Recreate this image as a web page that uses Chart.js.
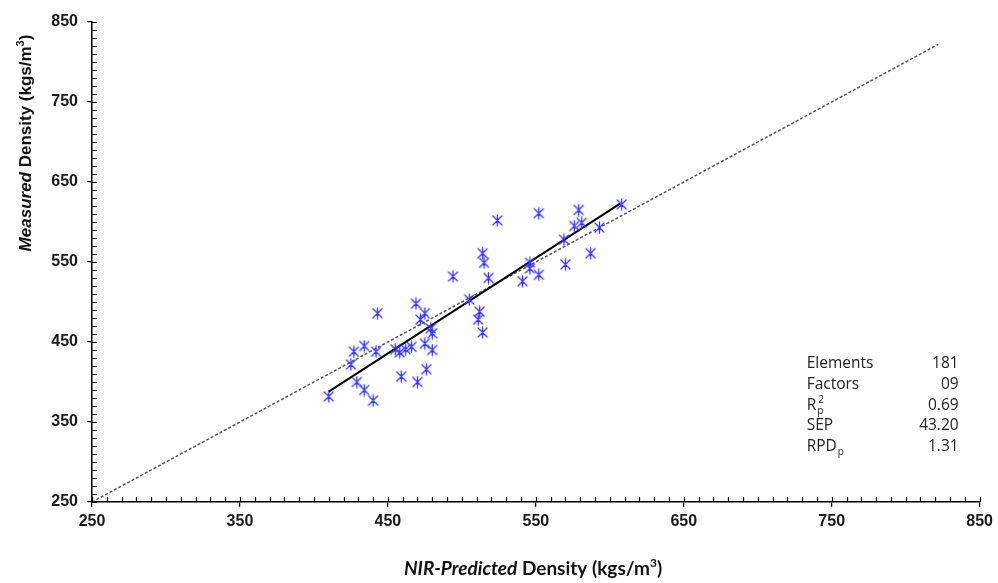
<!DOCTYPE html>
<html>
<head>
<meta charset="utf-8">
<script src="https://cdn.jsdelivr.net/npm/chart.js@4.4.1/dist/chart.umd.min.js"></script>
<style>
  html, body { margin: 0; padding: 0; background: #fff; }
  #wrap { width: 998px; height: 583px; }
</style>
</head>
<body>
<div id="wrap"><canvas id="chartNir"></canvas></div>
<script>
const ctx = document.getElementById('chartNir').getContext('2d');

// NIR-predicted vs measured density (kgs/m3)
const predicted = [
    410, 425, 427, 434, 442, 443, 429, 434, 440, 459, 470, 476, 455, 458, 462,
    466, 475, 480, 469, 475, 472, 479, 480, 494, 505, 512, 511, 514, 514, 515,
    518, 524, 541, 546, 546, 552, 552, 570, 569, 576, 579, 581, 587, 593, 608
];
const measured = [
    382, 422, 438, 445, 438, 486, 400, 390, 377, 407, 400, 416, 441, 437, 441,
    444, 448, 440, 498, 486, 478, 467, 461, 532, 503, 488, 478, 462, 561, 549,
    530, 602, 526, 549, 542, 534, 611, 547, 578, 595, 615, 599, 561, 593, 622
];

// regression fit and 1:1 line end points
const fitX = [410, 607];
const fitY = [388, 623];
const oneToOne = [250, 822];

const tickValues = [250, 350, 450, 550, 650, 750, 850];

const statNames = [['Elements', '', ''], ['Factors', '', ''], ['R', 'p', '2'], ['SEP', '', ''], ['RPD', 'p', '']];
const statValues = ['181', '09', '0.69', '43.20', '1.31'];

// asterisk marker (X with a vertical bar)
const star = document.createElement('canvas');
star.width = 13; star.height = 13;
const sc = star.getContext('2d');
sc.strokeStyle = '#3434ff';
sc.lineWidth = 1.3;
sc.lineCap = 'round';
sc.beginPath();
sc.moveTo(2, 2); sc.lineTo(11, 11);
sc.moveTo(11, 2); sc.lineTo(2, 11);
sc.moveTo(6.5, 1); sc.lineTo(6.5, 12);
sc.stroke();

const pts = predicted.map((p, i) => ({ x: p, y: measured[i] }));
const fitPts = fitX.map((v, i) => ({ x: v, y: fitY[i] }));
const idPts = oneToOne.map(v => ({ x: v, y: v }));

function drawRuns(c, runs, x, y, align) {
    let w = 0;
    runs.forEach(r => { c.font = r.font; w += c.measureText(r.text).width; });
    let cx = align === 'center' ? x - w / 2 : x;
    runs.forEach(r => {
        c.font = r.font;
        c.fillText(r.text, cx, y + (r.dy || 0));
        cx += c.measureText(r.text).width;
    });
}

const extras = {
    id: 'extras',
    afterDraw(chart) {
        const c = chart.ctx;
        const xs = chart.scales.x, ys = chart.scales.y;
        const a = chart.chartArea;
        c.save();
        // inner ticks every 10
        c.strokeStyle = '#000';
        c.lineWidth = 1.2;
        c.beginPath();
        for (let v = 250; v <= 850; v += 10) {
            const px = Math.round(xs.getPixelForValue(v)) + 0.5;
            c.moveTo(px, a.bottom); c.lineTo(px, a.bottom - 5);
            const py = Math.round(ys.getPixelForValue(v)) + 0.5;
            c.moveTo(a.left, py); c.lineTo(a.left + 5, py);
        }
        c.stroke();

        // axis titles
        c.fillStyle = '#111';
        c.textBaseline = 'alphabetic';
        const tf = '"Lato", "Open Sans", sans-serif';
        drawRuns(c, [
            { text: 'NIR-Predicted', font: 'italic bold 19px ' + tf },
            { text: ' Density (kgs/m', font: 'bold 19px ' + tf },
            { text: '3', font: 'bold 12px ' + tf, dy: -8 },
            { text: ')', font: 'bold 19px ' + tf }
        ], 533, 575, 'center');

        c.save();
        c.translate(31, 143);
        c.rotate(-Math.PI / 2);
        const yf = '"Liberation Sans", Arial, sans-serif';
        drawRuns(c, [
            { text: 'Measured', font: 'italic bold 17px ' + yf },
            { text: ' Density (kgs/m', font: 'bold 17px ' + yf },
            { text: '3', font: 'bold 11px ' + yf, dy: -7 },
            { text: ')', font: 'bold 17px ' + yf }
        ], 0, 0, 'center');
        c.restore();

        // stats block
        const sf = '"Open Sans", sans-serif';
        const lx = a.right - 173, rx = a.right - 21;
        statNames.forEach((s, i) => {
            const by = a.top + 346 + i * 20.8;
            c.fillStyle = '#222';
            c.textAlign = 'left';
            c.font = '15.5px ' + sf;
            c.fillText(s[0], lx, by);
            const w = c.measureText(s[0]).width;
            c.font = '10px ' + sf;
            if (s[1]) c.fillText(s[1], lx + w + 1, by + 4);
            if (s[2]) c.fillText(s[2], lx + w + 2, by - 7);
            c.textAlign = 'right';
            c.font = '15.5px ' + sf;
            c.fillText(statValues[i], rx, by);
        });
        c.restore();
    }
};

const tickFont = { family: '"Liberation Sans", Arial, sans-serif', size: 16, weight: 'bold' };

const nirChart = new Chart(ctx, {
    type: 'scatter',
    data: {
        datasets: [
            {
                label: 'Samples',
                data: pts,
                pointStyle: star,
                pointRadius: 6
            },
            {
                label: 'Fit',
                data: fitPts,
                showLine: true,
                borderColor: '#000',
                borderWidth: 2,
                pointRadius: 0
            },
            {
                label: '1:1',
                data: idPts,
                showLine: true,
                borderColor: '#555',
                borderWidth: 1.5,
                borderDash: [3, 2],
                pointRadius: 0
            }
        ]
    },
    options: {
        responsive: true,
        maintainAspectRatio: false,
        animation: false,
        layout: { padding: { left: 0, right: 18, top: 22, bottom: 0 } },
        plugins: {
            legend: { display: false },
            tooltip: { enabled: false }
        },
        scales: {
            x: {
                type: 'linear',
                min: 250,
                max: 850,
                afterBuildTicks: s => { s.ticks = tickValues.map(v => ({ value: v })); },
                afterFit: s => { s.height = 81; },
                border: { color: '#000', width: 1.5 },
                grid: { drawOnChartArea: false, color: '#000', lineWidth: 1.2, tickLength: 5 },
                ticks: { color: '#1a1a1a', font: tickFont, padding: 5, maxRotation: 0 }
            },
            y: {
                type: 'linear',
                min: 250,
                max: 850,
                afterBuildTicks: s => { s.ticks = tickValues.map(v => ({ value: v })); },
                afterFit: s => { s.width = 92; },
                border: { color: '#000', width: 1.5 },
                grid: { drawOnChartArea: false, color: '#000', lineWidth: 1.2, tickLength: 5 },
                ticks: { color: '#1a1a1a', font: tickFont, padding: 9 }
            }
        }
    },
    plugins: [extras]
});
</script>
</body>
</html>
